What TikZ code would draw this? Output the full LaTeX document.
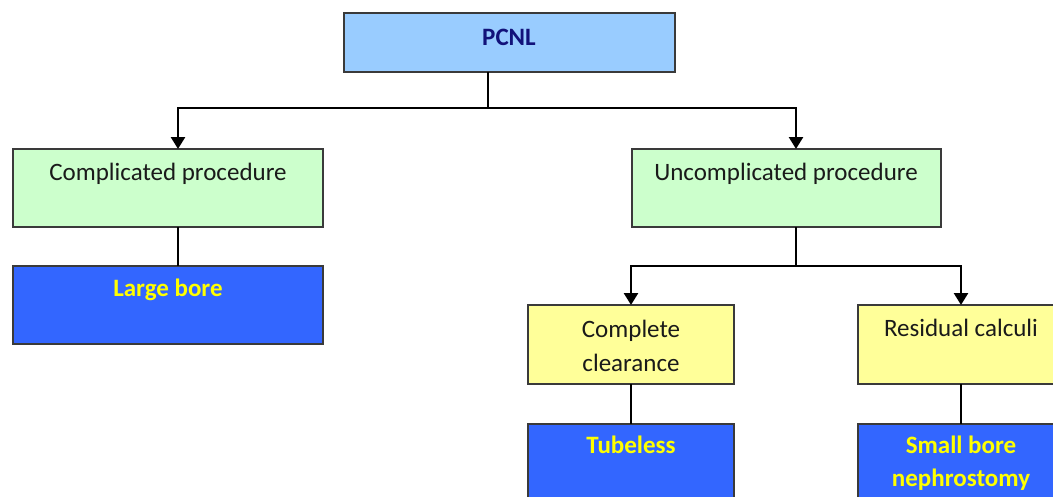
\documentclass[tikz,border=0pt]{standalone}
\usepackage{fontspec}
\setmainfont{Carlito}
\usetikzlibrary{arrows.meta}
\definecolor{pcnlfill}{HTML}{99CCFF}
\definecolor{greenfill}{HTML}{CCFFCC}
\definecolor{yellowfill}{HTML}{FFFF99}
\definecolor{bluefill}{HTML}{3366FF}
\definecolor{navytext}{HTML}{12127A}
\definecolor{darktext}{HTML}{1A1A1A}
\definecolor{yellowtext}{HTML}{FFFF00}
\definecolor{boxline}{HTML}{3A3A3A}
\begin{document}
\begin{tikzpicture}[x=1pt,y=-1pt,
  box/.style={draw=boxline, line width=1.5pt, inner sep=0pt, outer sep=0pt, anchor=north west},
  txt/.style={font=\fontsize{25}{34}\selectfont, text=darktext, inner sep=0pt, align=center, anchor=base},
  btxt/.style={txt, font=\fontsize{25}{33}\selectfont\bfseries, text=yellowtext},
  conn/.style={line width=2.6pt, black},
  arr/.style={conn, -{Triangle[width=14pt,length=12pt]}}]
\clip (0,0) rectangle (1053,496);
\useasboundingbox (0,0) rectangle (1053,496);
% boxes
\node[box, fill=pcnlfill, minimum width=331pt, minimum height=59pt] (pcnl) at (344,13) {};
\node[box, fill=greenfill, minimum width=310pt, minimum height=78pt] (comp) at (13,149) {};
\node[box, fill=greenfill, minimum width=309pt, minimum height=78pt] (unc) at (632,149) {};
\node[box, fill=bluefill, minimum width=310pt, minimum height=78pt] (large) at (13,266) {};
\node[box, fill=yellowfill, minimum width=206pt, minimum height=79pt] (clear) at (528,305) {};
\node[box, fill=yellowfill, minimum width=206pt, minimum height=79pt] (resid) at (858,305) {};
\node[box, fill=bluefill, minimum width=206pt, minimum height=100pt] (tube) at (528,424) {};
\node[box, fill=bluefill, minimum width=206pt, minimum height=100pt] (small) at (858,424) {};
% texts (multi-line nodes: base = last line's baseline)
\node[txt, font=\fontsize{25}{33}\selectfont\bfseries, text=navytext] (pcnlT) at (509,45) {PCNL};
\node[txt] (compT) at (168,180) {Complicated procedure};
\node[txt] (uncT) at (786,180) {Uncomplicated procedure};
\node[btxt] (largeT) at (168,296) {Large bore};
\node[txt] (clearT) at (631,371) {Complete\\clearance};
\node[txt] (residT) at (961,336) {Residual calculi};
\node[btxt] (tubeT) at (631,453) {Tubeless};
\node[btxt] (smallT) at (961,486) {Small bore\\nephrostomy};
% connector helpers
\coordinate (x1) at (488,0);
\coordinate (x2) at (178,0);
\coordinate (x3) at (796,0);
\coordinate (bar1) at (0,108);
\coordinate (bar2) at (0,266);
% connectors
\draw[conn] (pcnl.south -| x1) -- (x1 |- bar1);
\draw[arr] (x1 |- bar1) -| (comp.north -| x2);
\draw[arr] (x1 |- bar1) -| (unc.north -| x3);
\draw[conn] (comp.south -| x2) -- (large.north -| x2);
\draw[conn] (unc.south -| x3) -- (x3 |- bar2);
\draw[arr] (x3 |- bar2) -| (clear.north);
\draw[arr] (x3 |- bar2) -| (resid.north);
\draw[conn] (clear.south) -- (tube.north);
\draw[conn] (resid.south) -- (small.north);
\end{tikzpicture}
\end{document}
